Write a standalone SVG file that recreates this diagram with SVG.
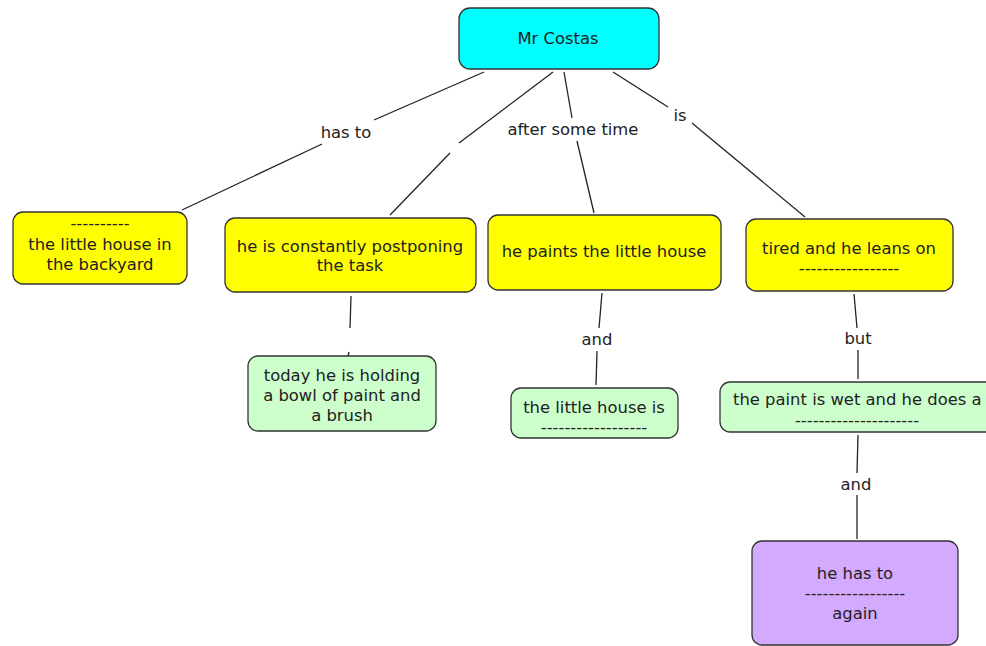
<svg xmlns="http://www.w3.org/2000/svg" width="986" height="646" viewBox="0 0 986 646">
<style>
  .n rect { stroke: #333; stroke-width: 1.3; }
  .y rect { fill: #ffff00; }
  .g rect { fill: #ccffcc; }
  text { font-family: "DejaVu Sans", Verdana, sans-serif; font-size: 16.4px; fill: #222; text-anchor: middle; dominant-baseline: central; }
  .c line { stroke: #222; stroke-width: 1.3; }
</style>
<rect width="986" height="646" fill="#ffffff"/>
<g id="connectors" class="c">
  <line x1="484" y1="72" x2="374" y2="120"/>
  <line x1="322" y1="144" x2="182" y2="210"/>
  <line x1="553" y1="72" x2="459" y2="143"/>
  <line x1="450" y1="153" x2="390" y2="215"/>
  <line x1="564" y1="72" x2="572" y2="118"/>
  <line x1="577" y1="141" x2="594" y2="213"/>
  <line x1="613" y1="72" x2="668" y2="107"/>
  <line x1="692" y1="123" x2="805" y2="217"/>
  <line x1="351" y1="296" x2="350" y2="328"/>
  <line x1="349" y1="352" x2="348" y2="356"/>
  <line x1="602" y1="293" x2="599" y2="328"/>
  <line x1="597" y1="351" x2="596" y2="385"/>
  <line x1="854" y1="294" x2="857" y2="328"/>
  <line x1="858" y1="350" x2="858" y2="379"/>
  <line x1="858" y1="435" x2="857" y2="473"/>
  <line x1="857" y1="495" x2="857" y2="539"/>
  <text x="346" y="132">has to</text>
  <text x="573" y="129">after some time</text>
  <text x="680" y="115">is</text>
  <text x="597" y="339">and</text>
  <text x="858" y="338">but</text>
  <text x="856" y="484">and</text>
</g>
<g id="mr-costas" class="n">
  <rect x="459" y="8" width="200" height="61" rx="11" fill="#00ffff"/>
  <text x="558" y="38">Mr Costas</text>
</g>
<g id="little-house-backyard" class="n y">
  <rect x="13" y="212" width="174" height="72" rx="10"/>
  <text x="100" y="223">----------</text>
  <text x="100" y="244">the little house in</text>
  <text x="100" y="264">the backyard</text>
</g>
<g id="postponing" class="n y">
  <rect x="225" y="218" width="251" height="74" rx="10"/>
  <text x="350" y="246">he is constantly postponing</text>
  <text x="350" y="265">the task</text>
</g>
<g id="paints" class="n y">
  <rect x="488" y="215" width="233" height="75" rx="10"/>
  <text x="604" y="251">he paints the little house</text>
</g>
<g id="tired" class="n y">
  <rect x="746" y="219" width="207" height="72" rx="10"/>
  <text x="849" y="248">tired and he leans on</text>
  <text x="849" y="268">-----------------</text>
</g>
<g id="holding" class="n g">
  <rect x="248" y="356" width="188" height="75" rx="10"/>
  <text x="342" y="375">today he is holding</text>
  <text x="342" y="395">a bowl of paint and</text>
  <text x="342" y="415">a brush</text>
</g>
<g id="house-is" class="n g">
  <rect x="511" y="388" width="167" height="50" rx="10"/>
  <text x="594" y="407">the little house is</text>
  <text x="594" y="427">------------------</text>
</g>
<g id="paint-wet" class="n g">
  <rect x="720" y="382" width="300" height="50" rx="10"/>
  <text x="733" y="399" style="text-anchor:start">the paint is wet and he does a</text>
  <text x="857" y="420">---------------------</text>
</g>
<g id="has-to-again" class="n">
  <rect x="752" y="541" width="206" height="104" rx="10" fill="#d4aaff"/>
  <text x="855" y="573">he has to</text>
  <text x="855" y="593">-----------------</text>
  <text x="855" y="613">again</text>
</g>
</svg>
